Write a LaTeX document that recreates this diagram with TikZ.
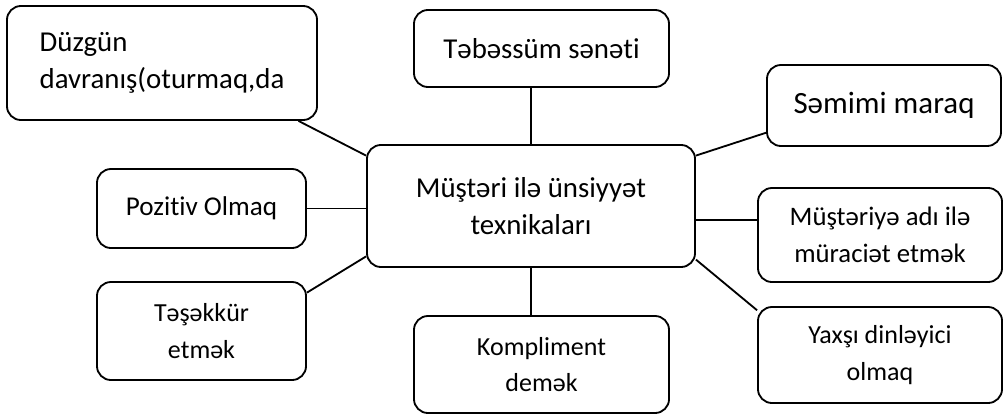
\documentclass[tikz,border=0pt]{standalone}
\usepackage{fontspec}
\setmainfont{Carlito}[Ligatures=NoCommon]
\usetikzlibrary{calc}
\tikzset{
  box/.style={draw,rectangle,rounded corners=0.35cm,line width=1.3pt,align=center,inner sep=2pt},
  bigbox/.style={box,font=\fontsize{20.5}{26.5}\selectfont},
  smallbox/.style={box,font=\fontsize{18.5}{26}\selectfont},
  link/.style={line width=1.3pt}
}
\begin{document}
\begin{tikzpicture}[x=0.025cm,y=-0.025cm]
  \useasboundingbox (0,0) rectangle (1004,416);
  \node[bigbox,minimum width=8.2cm,minimum height=3.05cm] (main) at (531,206) {Müştəri ilə ünsiyyət\\texnikaları};
  \node[bigbox,align=left,minimum width=7.75cm,minimum height=2.85cm] (dav) at (162,63) {Düzgün\\davranış(oturmaq,da};
  \node[bigbox,minimum width=6.375cm,minimum height=1.925cm] (smile) at (541.5,48.5) {Təbəssüm sənəti};
  \node[bigbox,font=\fontsize{22}{26.5}\selectfont,minimum width=5.85cm,minimum height=2.025cm] (sincere) at (884,105.5) {Səmimi maraq};
  \node[smallbox,font=\fontsize{19}{26}\selectfont,minimum width=6.1cm,minimum height=2.35cm] (name) at (880,235) {Müştəriyə adı ilə\\müraciət etmək};
  \node[smallbox,minimum width=6.1cm,minimum height=2.4cm] (listen) at (880,355) {Yaxşı dinləyici\\olmaq};
  \node[smallbox,font=\fontsize{19.3}{26}\selectfont,minimum width=5.225cm,minimum height=1.975cm] (positive) at (201.5,208.5) {Pozitiv Olmaq};
  \node[smallbox,minimum width=5.225cm,minimum height=2.45cm] (thanks) at (201.5,331) {Təşəkkür\\etmək};
  \node[smallbox,minimum width=6.375cm,minimum height=2.425cm] (compl) at (541.5,364.5) {Kompliment\\demək};

  \draw[link] (main.north) -- (main.north |- smile.south);
  \draw[link] (main.south) -- (main.south |- compl.north);
  \draw[link] (dav.-23) -- (main.163);
  \draw[link] (positive.east) -- (positive.east -| main.west);
  \draw[link] (thanks.20) -- (main.197);
  \draw[link] (main.17) -- (sincere.193);
  \draw[link] (name.173) -- (name.173 -| main.east);
  \draw[link] (main.-18) -- (listen.160);
\end{tikzpicture}
\end{document}
